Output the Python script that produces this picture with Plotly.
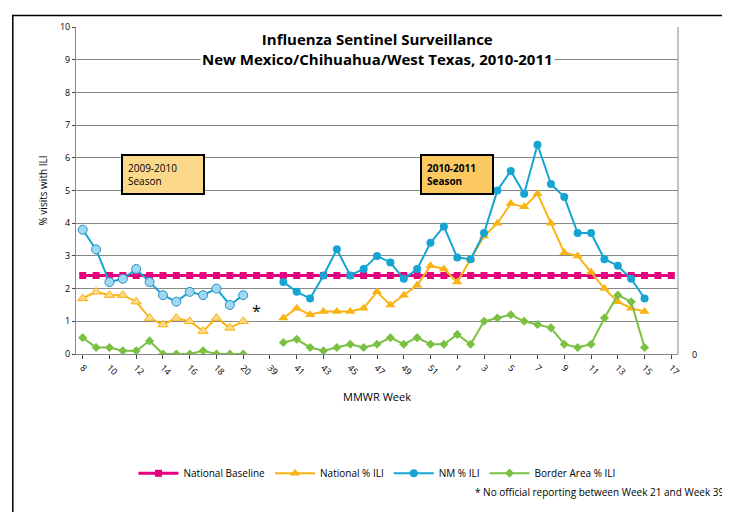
import plotly.graph_objects as go

# MMWR weeks on the x axis; keys carry a season prefix so repeated week numbers stay distinct
weeks = ["a%d" % w for w in range(8, 21)] + ["gap"] + ["b%d" % w for w in range(39, 53)] + ["c%d" % w for w in range(1, 18)]
shown_ticks = ["a%d" % w for w in range(8, 21, 2)] + ["b%d" % w for w in range(39, 53, 2)] + ["c%d" % w for w in range(1, 18, 2)]
tick_labels = [t[1:] for t in shown_ticks]

weeks_0910 = ["a%d" % w for w in range(8, 21)]
weeks_1011 = ["b%d" % w for w in range(40, 53)] + ["c%d" % w for w in range(1, 16)]

baseline = [2.4] * len(weeks)

nm_0910 = [3.8, 3.2, 2.2, 2.3, 2.6, 2.2, 1.8, 1.6, 1.9, 1.8, 2.0, 1.5, 1.8]
nat_0910 = [1.7, 1.9, 1.8, 1.8, 1.6, 1.1, 0.9, 1.1, 1.0, 0.7, 1.1, 0.8, 1.0]
border_0910 = [0.5, 0.2, 0.2, 0.1, 0.1, 0.4, 0.0, 0.0, 0.0, 0.1, 0.0, 0.0, 0.0]

nm_1011 = [2.2, 1.9, 1.7, 2.4, 3.2, 2.4, 2.6, 3.0, 2.8, 2.3, 2.6, 3.4, 3.9,
           2.95, 2.9, 3.7, 5.0, 5.6, 4.9, 6.4, 5.2, 4.8, 3.7, 3.7, 2.9, 2.7, 2.3, 1.7]
nat_1011 = [1.1, 1.4, 1.2, 1.3, 1.3, 1.3, 1.4, 1.9, 1.5, 1.8, 2.1, 2.7, 2.6,
            2.2, 2.9, 3.6, 4.0, 4.6, 4.5, 4.9, 4.0, 3.1, 3.0, 2.5, 2.0, 1.6, 1.4, 1.3]
border_1011 = [0.35, 0.45, 0.2, 0.1, 0.2, 0.3, 0.2, 0.3, 0.5, 0.3, 0.5, 0.3, 0.3,
               0.6, 0.3, 1.0, 1.1, 1.2, 1.0, 0.9, 0.8, 0.3, 0.2, 0.3, 1.1, 1.8, 1.6, 0.2]

PINK = "#e6007e"
ORANGE = "#f9b314"
BLUE = "#14a5d2"
GREEN = "#7ac143"

fig = go.Figure()

fig.add_trace(go.Scatter(x=weeks, y=baseline, mode="lines+markers", name="National Baseline",
                         line=dict(color=PINK, width=3), marker=dict(symbol="square", size=7, color=PINK)))

# 2009-2010 season (lighter styling)
fig.add_trace(go.Scatter(x=weeks_0910, y=nat_0910, mode="lines+markers", showlegend=False,
                         line=dict(color=ORANGE, width=2),
                         marker=dict(symbol="triangle-up", size=9, color="#fcd88a", line=dict(color=ORANGE, width=1))))
fig.add_trace(go.Scatter(x=weeks_0910, y=nm_0910, mode="lines+markers", showlegend=False,
                         line=dict(color=BLUE, width=2),
                         marker=dict(symbol="circle", size=9, color="#9fd8f2", line=dict(color="#2c8fc4", width=1))))
fig.add_trace(go.Scatter(x=weeks_0910, y=border_0910, mode="lines+markers", showlegend=False,
                         line=dict(color=GREEN, width=2),
                         marker=dict(symbol="diamond", size=7, color=GREEN)))

# 2010-2011 season
fig.add_trace(go.Scatter(x=weeks_1011, y=nat_1011, mode="lines+markers", name="National % ILI",
                         line=dict(color=ORANGE, width=2),
                         marker=dict(symbol="triangle-up", size=9, color=ORANGE)))
fig.add_trace(go.Scatter(x=weeks_1011, y=nm_1011, mode="lines+markers", name="NM % ILI",
                         line=dict(color=BLUE, width=2),
                         marker=dict(symbol="circle", size=8, color=BLUE)))
fig.add_trace(go.Scatter(x=weeks_1011, y=border_1011, mode="lines+markers", name="Border Area % ILI",
                         line=dict(color=GREEN, width=2),
                         marker=dict(symbol="diamond", size=7, color=GREEN)))

font = "Open Sans, Liberation Sans, sans-serif"

fig.update_layout(
    width=730, height=512,
    margin=dict(l=68, r=60, t=15, b=166),
    paper_bgcolor="white", plot_bgcolor="white",
    font=dict(family=font, size=9, color="black"),
    showlegend=True,
    legend=dict(orientation="h", x=0.5, xanchor="center", y=-0.32, yanchor="top",
                font=dict(size=10), itemwidth=40),
    xaxis=dict(type="category", categoryorder="array", categoryarray=weeks,
               tickmode="array", tickvals=shown_ticks, ticktext=tick_labels,
               tickangle=45, ticks="outside", ticklen=4, showline=True, linecolor="#888",
               showgrid=False, range=[-0.5, len(weeks) - 0.5],
               title=dict(text="MMWR Week", font=dict(size=11), standoff=16)),
    yaxis=dict(range=[0, 10], dtick=1, showgrid=True, gridcolor="#888", gridwidth=1,
               showline=True, linecolor="#888", ticks="outside", ticklen=3, zeroline=False,
               title=dict(text="% visits with ILI", font=dict(size=10), standoff=10)),
    shapes=[
        dict(type="rect", xref="paper", yref="paper", x0=-0.105, x1=1.088, y0=-0.49, y1=1.035,
             line=dict(color="black", width=1.5)),
        dict(type="line", xref="paper", yref="paper", x0=1, x1=1, y0=0, y1=1,
             line=dict(color="#888", width=1)),
    ],
    annotations=[
        dict(text="<b>Influenza Sentinel Surveillance<br>New Mexico/Chihuahua/West Texas, 2010-2011</b>",
             xref="paper", yref="paper", x=0.5, y=1.0, yanchor="top", showarrow=False,
             font=dict(size=15), bgcolor="white"),
        dict(text="2009-2010<br>Season", xref="x", yref="y", x="a14", y=5.5, showarrow=False,
             align="left", bgcolor="#fcd88a", bordercolor="black", borderwidth=2, borderpad=5,
             font=dict(size=10), width=70),
        dict(text="<b>2010-2011<br>Season</b>", xref="x", yref="y", x="c1", y=5.5, showarrow=False,
             align="left", bgcolor="#fcc860", bordercolor="black", borderwidth=2, borderpad=5,
             font=dict(size=10), width=60),
        dict(text="*", xref="x", yref="y", x="gap", y=1.3, showarrow=False, font=dict(size=16)),
        dict(text="0", xref="paper", yref="y", x=1.02, y=0, xanchor="left", showarrow=False,
             font=dict(size=9)),
        dict(text="* No official reporting between Week 21 and Week 39", xref="paper", yref="paper",
             x=1.08, y=-0.45, xanchor="right", showarrow=False, font=dict(size=10)),
    ],
)

fig.write_html("out.html")
